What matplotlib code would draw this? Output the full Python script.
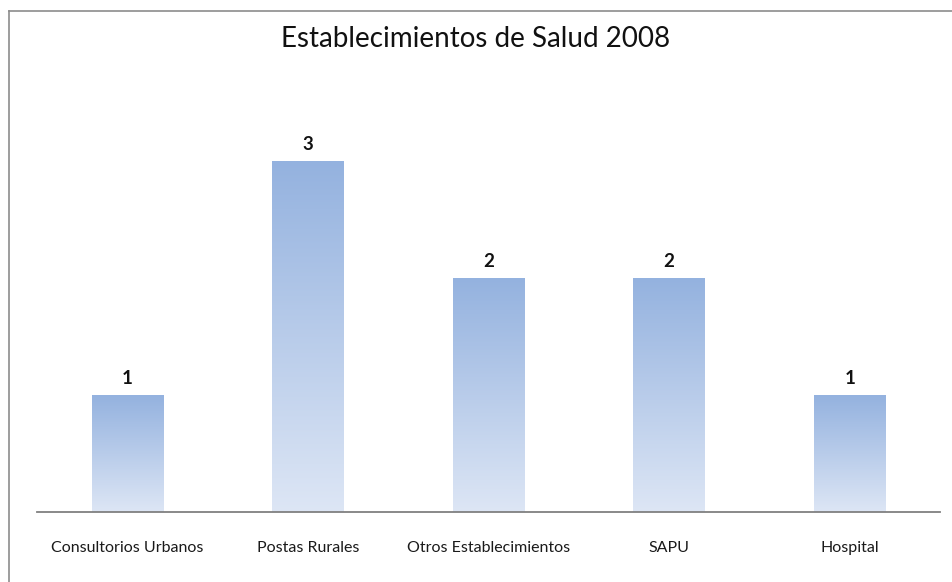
import numpy as np
import matplotlib
matplotlib.use('Agg')
import matplotlib.pyplot as plt
from matplotlib.colors import LinearSegmentedColormap

plt.rcParams['font.family'] = ['Lato', 'DejaVu Sans']

categories = ['Consultorios Urbanos', 'Postas Rurales', 'Otros Establecimientos', 'SAPU', 'Hospital']
values = [1, 3, 2, 2, 1]

fig = plt.figure(figsize=(9.52, 5.82), dpi=100)
W, H = 952, 582

# chart frame (only top and left edges fall inside the picture)
fig.add_artist(plt.Line2D([9 / W, 9 / W], [0, 1 - 11 / H], color='#8c8c8c', lw=1.2))
fig.add_artist(plt.Line2D([9 / W, 1], [1 - 11 / H, 1 - 11 / H], color='#8c8c8c', lw=1.2))

ax = fig.add_axes([37 / W, 1 - 512 / H, 903 / W, (512 - 103) / H])
x = np.arange(len(categories))
bars = ax.bar(x, values, width=0.395, color='none', edgecolor='none')

grad = LinearSegmentedColormap.from_list('g', ['#dde6f5', '#94b2df'])
ramp = np.linspace(0, 1, 256).reshape(-1, 1)
for b in bars:
    x0, w, h = b.get_x(), b.get_width(), b.get_height()
    im = ax.imshow(ramp, cmap=grad, aspect='auto', origin='lower',
                   extent=[x0, x0 + w, 0, h], zorder=2)
    im.set_clip_path(b)
    ax.text(x0 + w / 2, h + 0.07, str(int(h)), ha='center', va='bottom',
            fontsize=13.5, fontweight='bold', color='#111111')

ax.set_xlim(-0.5, len(categories) - 0.5)
ax.set_ylim(0, 3.5)
ax.set_xticks(x)
ax.set_xticklabels(categories, fontsize=11.5, color='#1a1a1a')
ax.tick_params(axis='x', length=0, pad=21)
ax.set_yticks([])
for s in ['top', 'right', 'left']:
    ax.spines[s].set_visible(False)
ax.spines['bottom'].set_color('#808080')
ax.spines['bottom'].set_linewidth(1.3)

fig.text(476 / W, 1 - 39 / H, 'Establecimientos de Salud 2008', ha='center', va='center',
         fontsize=20, color='#111111')

fig.savefig('out.png', dpi=100)
